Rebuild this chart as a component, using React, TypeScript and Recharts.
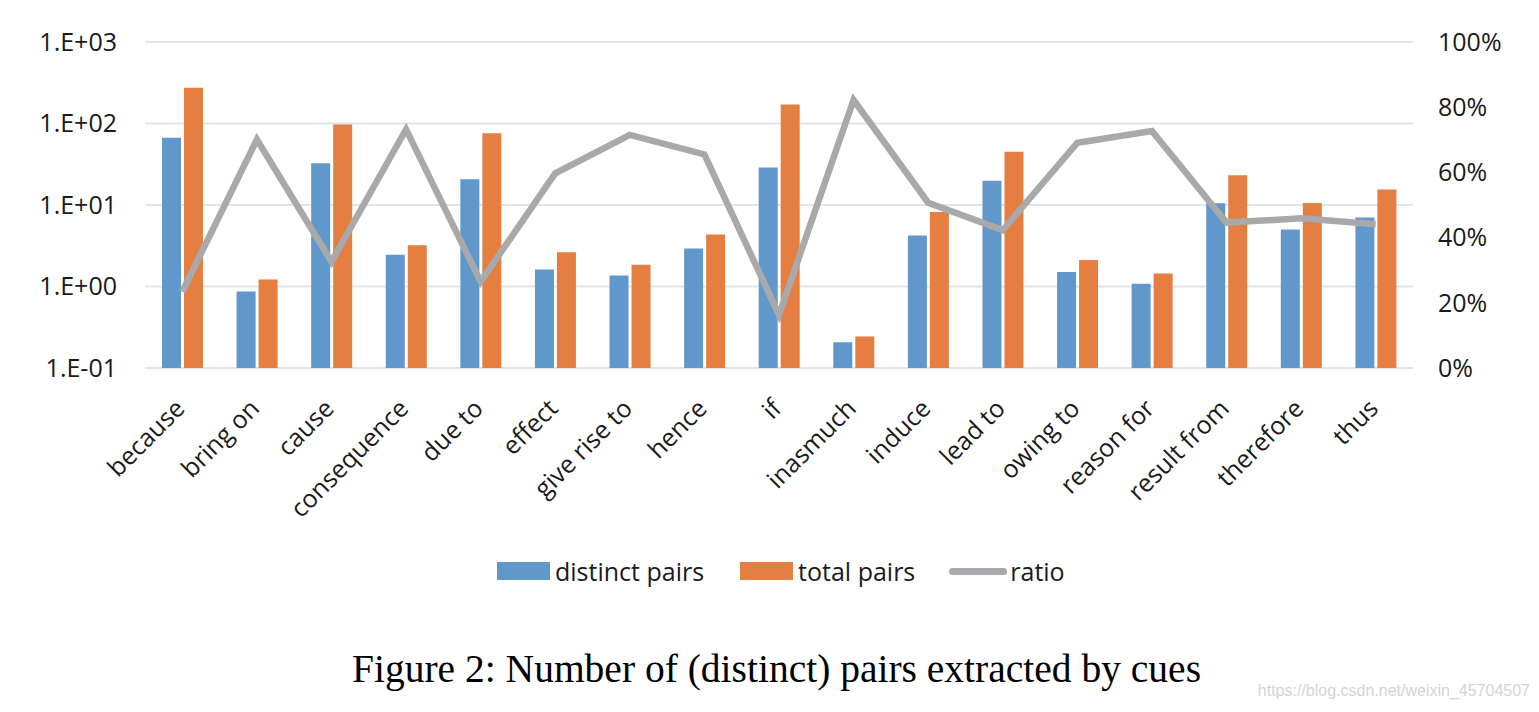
import * as React from 'react'
import {
  Bar,
  CartesianGrid,
  ComposedChart,
  Line,
  XAxis,
  YAxis,
} from 'recharts'

const cues = [
  'because', 'bring on', 'cause', 'consequence', 'due to', 'effect', 'give rise to',
  'hence', 'if', 'inasmuch', 'induce', 'lead to', 'owing to', 'reason for',
  'result from', 'therefore', 'thus',
]
const distinctPairs = [66.7, 0.87, 32.6, 2.45, 20.7, 1.62, 1.36, 2.93, 28.9, 0.207, 4.23, 19.8, 1.51, 1.08, 10.5, 5.0, 7.0]
const totalPairs = [274, 1.22, 97, 3.21, 76, 2.64, 1.85, 4.35, 171, 0.244, 8.2, 45, 2.12, 1.44, 23.2, 10.6, 15.5]
const ratio = [23.4, 70.1, 32.6, 73.2, 26.5, 59.7, 71.5, 65.5, 16.3, 82.2, 50.7, 42.3, 69.1, 72.7, 44.6, 45.9, 44.1]

const leftTicks = [0.1, 1, 10, 100, 1000]
const rightTicks = [0, 20, 40, 60, 80, 100]

const BLUE = '#6198CB'
const ORANGE = '#E57F41'
const GRAY = '#A9A9AB'
const GRID = '#E1E5EA'
const INK = '#1a1a1a'
const FONT = '"Open Sans", "DejaVu Sans", sans-serif'

const data = cues.map((cue, i) => ({
  cue,
  distinct: distinctPairs[i],
  total: totalPairs[i],
  ratio: ratio[i],
}))

// Excel-ish scientific format: 1.E+02
const sciLabel = (v: number) => {
  const exp = Math.round(Math.log10(v))
  const sign = exp < 0 ? '-' : '+'
  return `1.E${sign}${String(Math.abs(exp)).padStart(2, '0')}`
}

const CueTick = (props: any) => {
  const { x, y, payload } = props
  const ax = x + 4
  const ay = y + 34
  return (
    <text
      x={ax}
      y={ay}
      textAnchor="end"
      transform={`rotate(-45, ${ax}, ${ay})`}
      fontFamily={FONT}
      fontSize={25}
      fill={INK}
    >
      {payload.value}
    </text>
  )
}

const swatch = (bg: string) => (
  <span style={{ display: 'inline-block', width: 53, height: 18, background: bg, marginRight: 5 }} />
)

const LegendRow = () => (
  <div
    style={{
      position: 'absolute',
      top: 554,
      left: 497,
      display: 'flex',
      alignItems: 'center',
      fontFamily: FONT,
      fontSize: 25,
      color: INK,
      whiteSpace: 'nowrap',
    }}
  >
    {swatch(BLUE)}
    <span style={{ marginRight: 36 }}>distinct pairs</span>
    {swatch(ORANGE)}
    <span style={{ marginRight: 34 }}>total pairs</span>
    <span style={{ display: 'inline-block', width: 58, height: 7, borderRadius: 4, background: GRAY, marginRight: 3 }} />
    <span>ratio</span>
  </div>
)

export default function App() {
  return (
    <div style={{ position: 'absolute', left: 0, top: 0, width: 1539, height: 712, background: '#fff' }}>
      <ComposedChart
        width={1539}
        height={712}
        data={data}
        margin={{ top: 42, right: 0, bottom: 343, left: 0 }}
        barGap={3}
      >
        <CartesianGrid yAxisId="left" vertical={false} stroke={GRID} strokeWidth={2} />
        <XAxis
          dataKey="cue"
          axisLine={false}
          tickLine={false}
          interval={0}
          height={1}
          tick={<CueTick />}
        />
        <YAxis
          yAxisId="left"
          scale="log"
          domain={[0.1, 1000]}
          ticks={leftTicks}
          allowDataOverflow
          width={145}
          axisLine={false}
          tickLine={false}
          tickSize={0}
          tickMargin={28}
          tickFormatter={sciLabel}
          tick={{ fontFamily: FONT, fontSize: 25, fill: INK }}
        />
        <YAxis
          yAxisId="right"
          orientation="right"
          domain={[0, 100]}
          ticks={rightTicks}
          width={126}
          axisLine={false}
          tickLine={false}
          tickSize={0}
          tickMargin={25}
          tickFormatter={(v: number) => `${v}%`}
          tick={{ fontFamily: FONT, fontSize: 25, fill: INK, textAnchor: 'start' }}
        />
        <Bar yAxisId="left" dataKey="distinct" name="distinct pairs" fill={BLUE} barSize={19} isAnimationActive={false} />
        <Bar yAxisId="left" dataKey="total" name="total pairs" fill={ORANGE} barSize={19} isAnimationActive={false} />
        <Line
          yAxisId="right"
          dataKey="ratio"
          name="ratio"
          stroke={GRAY}
          strokeWidth={6.5}
          dot={false}
          activeDot={false}
          isAnimationActive={false}
        />
      </ComposedChart>
      <LegendRow />
      <div
        style={{
          position: 'absolute',
          top: 646,
          left: 352,
          fontFamily: '"Liberation Serif", "Times New Roman", serif',
          fontSize: 39.5,
          color: '#000',
          whiteSpace: 'nowrap',
        }}
      >
        Figure 2: Number of (distinct) pairs extracted by cues
      </div>
      <div
        style={{
          position: 'absolute',
          top: 682,
          right: 9,
          fontFamily: '"Liberation Sans Narrow", "Liberation Sans", sans-serif',
          fontSize: 16,
          color: '#d4d4d4',
        }}
      >
        https://blog.csdn.net/weixin_45704507
      </div>
    </div>
  )
}
